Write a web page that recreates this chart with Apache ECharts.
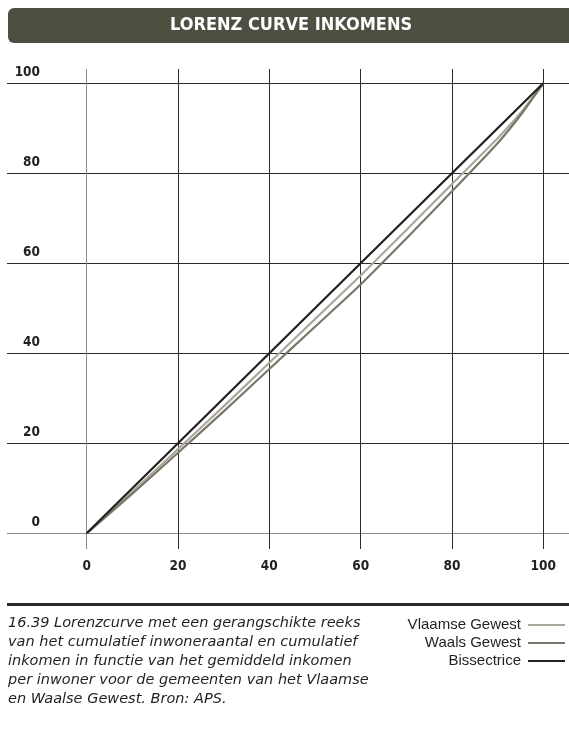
<!DOCTYPE html>
<html>
<head>
<meta charset="utf-8">
<title>Lorenz curve inkomens</title>
<script src="https://cdn.jsdelivr.net/npm/echarts@6/dist/echarts.min.js"></script>
<style>
  html, body { margin: 0; padding: 0; background: #fff; }
  #chart { width: 569px; height: 729px; }
</style>
</head>
<body>
<div id="chart"></div>
<script>
// cumulatief inwoneraantal (%)
var bevolking = [0, 10, 20, 30, 40, 50, 60, 70, 80, 90, 95, 100];
// cumulatief inkomen (%)
var vlaamseGewest = [0, 9.2, 18.7, 28.2, 37.9, 47.6, 57.3, 67.4, 77.6, 87.8, 93.4, 100];
var waalsGewest = [0, 8.8, 17.9, 27.1, 36.5, 45.9, 55.3, 65.5, 76.0, 86.7, 92.9, 100];
var bissectrice = [0, 10, 20, 30, 40, 50, 60, 70, 80, 90, 95, 100];
var tickWaarden = [0, 20, 40, 60, 80, 100];

var bijschrift = [
    '16.39 Lorenzcurve met een gerangschikte reeks',
    'van het cumulatief inwoneraantal en cumulatief',
    'inkomen in functie van het gemiddeld inkomen',
    'per inwoner voor de gemeenten van het Vlaamse',
    'en Waalse Gewest. Bron: APS.'
];

function paren(ys) {
    return bevolking.map(function (x, i) { return [x, ys[i]]; });
}

var myChart = echarts.init(document.getElementById('chart'));
var gridKleuren = ['#8a8a8a', '#2b2b2b', '#2b2b2b', '#2b2b2b', '#2b2b2b', '#2b2b2b'];
var smal = '"DejaVu Sans Condensed", "Liberation Sans", sans-serif';
var labelFont = {
    fontFamily: smal,
    fontWeight: 'bold',
    fontSize: 13.5,
    color: '#231f20'
};

var option = {
    animation: false,
    title: {
        text: 'LORENZ CURVE INKOMENS',
        left: 170,
        top: 16,
        padding: 0,
        textStyle: {
            fontFamily: smal,
            fontWeight: 'bold',
            fontSize: 18,
            lineHeight: 19,
            color: '#ffffff'
        }
    },
    graphic: [
        {
            type: 'rect',
            left: 8, top: 8, z: -1,
            shape: { width: 575, height: 35, r: 6 },
            style: { fill: '#4b5040' }
        },
        {
            type: 'rect',
            left: 7, top: 603,
            shape: { width: 570, height: 3 },
            style: { fill: '#2b2b2b' }
        },
        {
            type: 'text',
            left: 8, top: 614,
            style: {
                text: bijschrift.join('\n'),
                font: 'italic 14.5px "DejaVu Sans"',
                lineHeight: 19,
                fill: '#231f20'
            }
        }
    ],
    legend: {
        orient: 'vertical',
        right: 4,
        top: 617,
        padding: 0,
        align: 'right',
        icon: 'rect',
        itemWidth: 37,
        itemHeight: 2,
        itemGap: 2,
        textStyle: {
            fontFamily: 'Liberation Sans',
            fontSize: 15,
            lineHeight: 16,
            color: '#231f20',
            padding: [0, 2, 0, 0]
        },
        data: ['Vlaamse Gewest', 'Waals Gewest', 'Bissectrice']
    },
    grid: {
        left: 7,
        right: 0,
        top: 69,
        bottom: 180
    },
    xAxis: {
        type: 'value',
        min: -17.45,
        max: 105.63,
        axisLine: { show: false, onZero: false },
        axisTick: { show: false, customValues: tickWaarden },
        axisLabel: Object.assign({ customValues: tickWaarden, margin: 10 }, labelFont),
        splitLine: { show: true, lineStyle: { color: gridKleuren, width: 1 } }
    },
    yAxis: {
        type: 'value',
        min: -3.49,
        max: 103.18,
        axisLine: { show: false, onZero: false },
        axisTick: { show: false, customValues: tickWaarden },
        axisLabel: Object.assign({
            customValues: tickWaarden,
            inside: true,
            margin: 33,
            align: 'right',
            verticalAlign: 'bottom',
            padding: [0, 0, 4, 0]
        }, labelFont),
        splitLine: { show: true, lineStyle: { color: gridKleuren, width: 1 } }
    },
    series: [
        {
            name: 'Vlaamse Gewest',
            type: 'line',
            symbol: 'none',
            smooth: 0.15,
            z: 3,
            lineStyle: { color: '#aba79d', width: 2.2 },
            itemStyle: { color: '#aba79d' },
            data: paren(vlaamseGewest)
        },
        {
            name: 'Waals Gewest',
            type: 'line',
            symbol: 'none',
            smooth: 0.15,
            z: 3,
            lineStyle: { color: '#7a776a', width: 2.2 },
            itemStyle: { color: '#7a776a' },
            data: paren(waalsGewest)
        },
        {
            name: 'Bissectrice',
            type: 'line',
            symbol: 'none',
            z: 4,
            lineStyle: { color: '#231f20', width: 2.2 },
            itemStyle: { color: '#231f20' },
            data: paren(bissectrice)
        }
    ]
};
myChart.setOption(option);
</script>
</body>
</html>
